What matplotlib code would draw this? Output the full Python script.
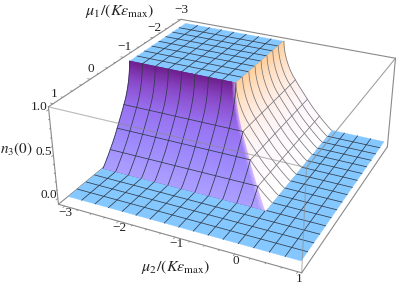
import numpy as np
import matplotlib
matplotlib.use('Agg')
import matplotlib.pyplot as plt
from matplotlib.collections import PolyCollection
from matplotlib.colors import LinearSegmentedColormap

plt.rcParams['font.family'] = 'Liberation Serif'
plt.rcParams['mathtext.fontset'] = 'stix'

# mesh lines of the surface (same in both mu directions)
mesh = [-3, -2.75, -2.5, -2.25, -2, -1.75, -1.5, -1.25, -1, -0.75, -0.5, -0.25, 0, 0.25, 0.5, 0.75, 1]
# n3(0) read along a flank, d = distance from the plateau edge
flank_d = [0, 0.01, 0.03, 0.06, 0.1, 0.15, 0.2, 0.25, 0.31, 0.375, 0.44, 0.5, 0.56, 0.625, 0.69, 0.75, 0.81, 0.875, 0.94, 1]
flank_n = [1, 0.93, 0.86, 0.79, 0.72, 0.65, 0.595, 0.55, 0.495, 0.44, 0.385, 0.335, 0.285, 0.235, 0.19, 0.15, 0.11, 0.07, 0.03, 0]
flank_d = np.array(flank_d)
flank_n = np.array(flank_n)

mu2_ticks = [-3, -2, -1, 0, 1]
mu1_ticks = [1, 0, -1, -2, -3]
z_ticks = [0.0, 0.5, 1.0]

# box limits
x0, x1 = -3.12, 1.06
y0, y1 = -3.04, 1.12
z0, z1 = -0.07, 1.03

# calibration of the view: (mu2, mu1, n) -> pixel
calib = [(-3, 1, 0, 68, 197), (1, 1, 0, 302, 261), (1, -3, 0, 384, 141),
         (0, -3, 0, 332, 131), (-3, 0, 0, 104, 168), (0, 0, 0, 264, 210),
         (-3, -1, 1, 130, 61), (-3, -3, 1, 185, 23), (-1, -3, 1, 284, 42), (-1, -1, 1, 236, 83)]
rows = []
for X, Y, Z, u, v in calib:
    rows.append([X, Y, Z, 1, 0, 0, 0, 0, -u*X, -u*Y, -u*Z, -u])
    rows.append([0, 0, 0, 0, X, Y, Z, 1, -v*X, -v*Y, -v*Z, -v])
P = np.linalg.svd(np.array(rows, dtype=float))[2][-1].reshape(3, 4)


def proj(x, y, z):
    x, y, z = np.broadcast_arrays(np.asarray(x, float), np.asarray(y, float), np.asarray(z, float))
    w = P[2, 0]*x + P[2, 1]*y + P[2, 2]*z + P[2, 3]
    u = (P[0, 0]*x + P[0, 1]*y + P[0, 2]*z + P[0, 3])/w
    v = (P[1, 0]*x + P[1, 1]*y + P[1, 2]*z + P[1, 3])/w
    return u, v


fig = plt.figure(figsize=(3.99, 2.88), dpi=100)
ax = fig.add_axes([0, 0, 1, 1])
ax.set_xlim(0, 399)
ax.set_ylim(288, 0)
ax.axis('off')

blue = '#84c8ff'
meshc = '#2f3a4a'
softc = '#77777c'
boxc = '#8a8a8a'
lwm = 0.55


def line(a, b, lw=0.8, alpha=1.0, zo=1):
    u, v = proj(*zip(a, b))
    ax.plot(u, v, color=boxc, lw=lw, alpha=alpha, zorder=zo, solid_capstyle='round')


# back box edges
line((x0, y0, z1), (x1, y0, z1))
line((x1, y0, z1), (x1, y0, z0))
line((x0, y1, z1), (x0, y0, z1))
line((x0, y1, z0), (x0, y0, z0))

# ground and plateau cells
ground = []
top = []
for i in range(len(mesh)-1):
    for j in range(len(mesh)-1):
        a, b = mesh[i], mesh[i+1]
        c, d = mesh[j], mesh[j+1]
        if a >= 0 or c >= 0:
            ground.append(np.column_stack(proj([a, b, b, a], [c, c, d, d], 0)))
        if b <= -1 and d <= -1:
            top.append(np.column_stack(proj([a, b, b, a], [c, c, d, d], 1)))
ax.add_collection(PolyCollection(ground + top, facecolors=blue, edgecolors=blue, linewidths=0.3, zorder=2))

for m in mesh[1:-1]:
    if m < 0:
        ax.plot(*proj(m, [0, 1], 0), color=meshc, lw=lwm, zorder=2.5)
        ax.plot(*proj([0, 1], m, 0), color=meshc, lw=lwm, zorder=2.5)
    else:
        ax.plot(*proj(m, [-3, 1], 0), color=meshc, lw=lwm, zorder=2.5)
        ax.plot(*proj([-3, 1], m, 0), color=meshc, lw=lwm, zorder=2.5)
    if m <= -1:
        ax.plot(*proj(m, [-3, -1], 1), color=meshc, lw=lwm, zorder=2.5)
        ax.plot(*proj([-3, -1], m, 1), color=meshc, lw=lwm, zorder=2.5)

# flanks, colours go with the height
purple = LinearSegmentedColormap.from_list('p', [(0, '#ab9fff'), (0.33, '#9c84fb'), (0.55, '#9870ef'),
                                                 (0.8, '#8a48c8'), (1, '#6f1f8e')])
peach = LinearSegmentedColormap.from_list('o', [(0, '#ffffff'), (0.33, '#fdf7fb'), (0.55, '#fff0ea'),
                                                (0.8, '#ffe0c4'), (1, '#ffcf9c')])
edge = np.array(matplotlib.colors.to_rgba('#e8c8ff'))
t = np.array([0, 0.3, 0.6, 0.965, 1.0])
for cmap, left in ((purple, True), (peach, False)):
    near = -1 + flank_d
    far = -3 + t[:, None]*(near[None, :] + 3)
    hgt = np.broadcast_to(flank_n, far.shape)
    if left:
        u, v = proj(far, near, hgt)
        col = cmap(hgt)
        col[-1] = edge
    else:
        u, v = proj(near, far, hgt)
        col = cmap(hgt)
    ax.pcolormesh(u, v, col, shading='gouraud', zorder=3)

# mesh on the flanks
for m in mesh:
    if m > -3 and m < 0:
        k = np.where(flank_d >= m + 1 - 1e-9)[0]
        ax.plot(*proj(m, -1 + flank_d[k], flank_n[k]), color=meshc, lw=lwm, zorder=4)
        ax.plot(*proj(-1 + flank_d[k], m, flank_n[k]), color=softc, lw=lwm, zorder=4)
    if m == -3:
        ax.plot(*proj(m, -1 + flank_d, flank_n), color=meshc, lw=lwm, zorder=4)
        ax.plot(*proj(-1 + flank_d, m, flank_n), color=softc, lw=lwm, zorder=4)
    if m > -1 and m < 0:
        z = flank_n[np.argmin(abs(flank_d - (m + 1)))]
        ax.plot(*proj([-3, m], m, z), color=meshc, lw=lwm, zorder=4)
        ax.plot(*proj(m, [-3, m], z), color=softc, lw=lwm, zorder=4)

# front box edges, these show through the surface
line((x0, y1, z1), (x1, y1, z1), alpha=0.6, zo=5)
line((x1, y1, z1), (x1, y0, z1), alpha=0.8, zo=5)
line((x1, y1, z1), (x1, y1, z0), alpha=0.6, zo=5)
line((x0, y1, z1), (x0, y1, z0), zo=5)
line((x0, y1, z0), (x1, y1, z0), zo=5)
line((x1, y1, z0), (x1, y0, z0), zo=5)

# ticks
for m in np.arange(-3, 1.01, 0.25):
    s = 0.05 if m == int(m) else 0.03
    line((m, y1, z0), (m, y1 + s, z0), lw=0.6, zo=5)
    line((x0, -m - 2, z1), (x0 - s, -m - 2, z1), lw=0.6, zo=5)
for m in np.arange(0, 1.01, 0.1):
    s = 0.05 if round(m*10) % 5 == 0 else 0.03
    line((x0, y1, m), (x0, y1 + s, m), lw=0.6, zo=5)

# tick labels
fs = 9.5
txt = '#222222'
for m in mu2_ticks:
    u, v = proj(m, y1, z0)
    ax.text(u + 1, v + 7, ('\u2212' + str(-m)) if m < 0 else str(m), fontsize=fs, ha='center', va='center', color=txt)
for m in mu1_ticks:
    u, v = proj(x0, m, z1)
    ax.text(u + 1, v - 10, ('\u2212' + str(-m)) if m < 0 else str(m), fontsize=fs, ha='center', va='center', color=txt)
for m in z_ticks:
    u, v = proj(x0, y1, m)
    ax.text(u - 1, v - 3, '%.1f' % m, fontsize=fs, ha='right', va='center', color=txt)

ax.text(120, 11, r'$\mu_1/(K\varepsilon_{\mathrm{max}})$', fontsize=11.5, ha='center', va='center', color=txt)
ax.text(176, 267, r'$\mu_2/(K\varepsilon_{\mathrm{max}})$', fontsize=11.5, ha='center', va='center', color=txt)
ax.text(16, 149, r'$n_3(0)$', fontsize=11, ha='center', va='center', color=txt)

fig.savefig('out.png', dpi=100)
